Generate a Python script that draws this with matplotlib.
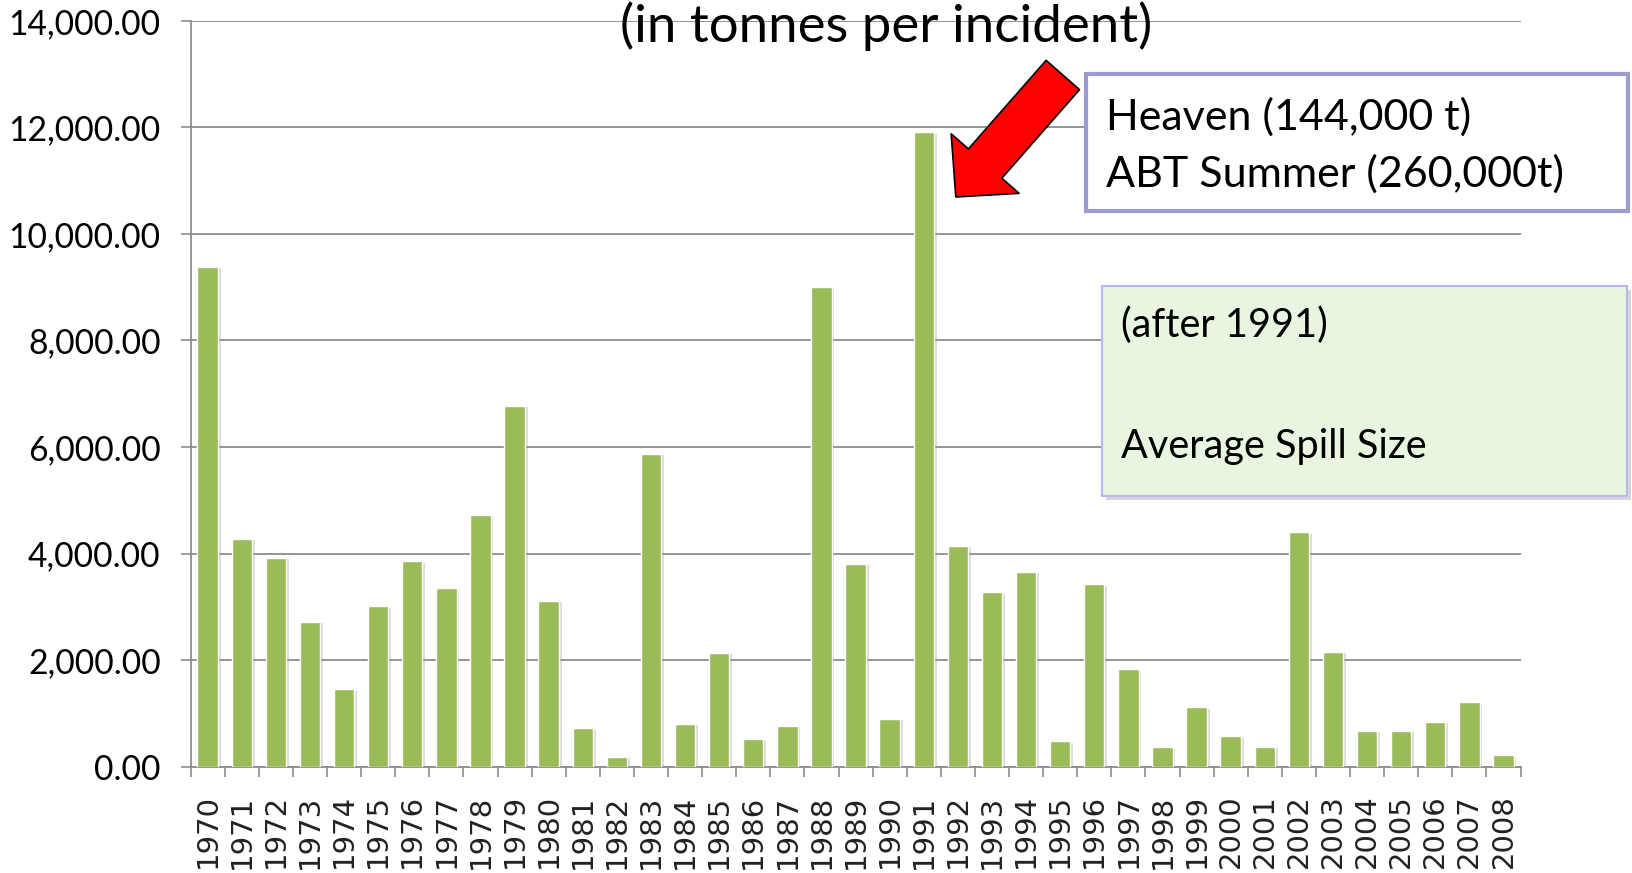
import numpy as np
import matplotlib
matplotlib.use("Agg")
import matplotlib.pyplot as plt
import matplotlib.patheffects as pe
from matplotlib.patches import Rectangle
from matplotlib.ticker import StrMethodFormatter, FixedLocator

# average spill size per year (tonnes per incident)
years = [str(y) for y in range(1970, 2009)]
avg_spill = [9380, 4280, 3920, 2720, 1450, 3010, 3850, 3360, 4730, 6770,
             3110, 720, 180, 5870, 800, 2130, 510, 760, 9000, 3810,
             900, 11910, 4150, 3270, 3660, 470, 3420, 1840, 370, 1110,
             570, 370, 4400, 2150, 670, 670, 840, 1210, 210]
yticks = [0, 2000, 4000, 6000, 8000, 10000, 12000, 14000]

title_txt = "(in tonnes per incident)"
box1_lines = ["Heaven (144,000 t)", "ABT Summer (260,000t)"]
box2_lines = ["(after 1991)", "Average Spill Size"]

plt.rcParams['font.family'] = ['Lato', 'DejaVu Sans']

W, H = 1633, 873
fig = plt.figure(figsize=(W / 100, H / 100), dpi=100)
ax = fig.add_axes([190.6 / W, (H - 766.5) / H, (1520.5 - 190.6) / W, (766.5 - 21) / H])

x = np.arange(len(years))
bars = ax.bar(x, avg_spill, width=0.6, color="#9BBB59", edgecolor="white", linewidth=1, zorder=3)
for b in bars:
    b.set_path_effects([pe.SimplePatchShadow(offset=(2, -1), shadow_rgbFace="#999999", alpha=0.35),
                        pe.Normal()])

ax.set_xlim(-0.5, len(years) - 0.5)
ax.set_ylim(0, 14000)
ax.set_yticks(yticks)
ax.yaxis.set_major_formatter(StrMethodFormatter("{x:,.2f}"))
ax.grid(axis="y", color="#8C8C8C", linewidth=1.3, zorder=0)
ax.set_axisbelow(True)

for s in ["top", "right"]:
    ax.spines[s].set_visible(False)
for s in ["left", "bottom"]:
    ax.spines[s].set_color("#8C8C8C")
    ax.spines[s].set_linewidth(1.3)

ax.tick_params(axis="y", direction="out", length=7.5, width=1.2, color="#8C8C8C",
               labelsize=24.2, pad=14, labelcolor="black")
ax.set_xticks(x)
ax.set_xticklabels(years, rotation=90, fontsize=21, family="DejaVu Sans", color="#222222")
ax.tick_params(axis="x", which="major", length=0, pad=20)
ax.xaxis.set_minor_locator(FixedLocator(np.arange(-0.5, len(years), 1.0)))
ax.tick_params(axis="x", which="minor", direction="out", length=7.5, width=1.2, color="#8C8C8C")

# title, partly cut at the top edge
fig.text(886 / W, 1 - 42 / H, title_txt, ha="center", va="baseline", fontsize=38, color="black")

# red arrow pointing at the 1991 bar
ax.annotate("", xy=(21.94, 10695), xycoords="data",
            xytext=(1062.8 / W, 1 - 75 / H), textcoords="figure fraction",
            arrowprops=dict(arrowstyle="simple,head_length=3.2,head_width=6.5,tail_width=3.2",
                            mutation_scale=10, fc="red", ec="black", lw=1.2,
                            shrinkA=0, shrinkB=0), zorder=5)

# box with the two big spills
fig.add_artist(Rectangle((1086 / W, 1 - 211 / H), 542 / W, 137 / H, transform=fig.transFigure,
                         facecolor="white", edgecolor="#9C9CCF", linewidth=3, zorder=6))
fig.text(1106 / W, 1 - 130 / H, box1_lines[0], fontsize=31, va="baseline", zorder=7)
fig.text(1106 / W, 1 - 187 / H, box1_lines[1], fontsize=31, va="baseline", zorder=7)

# green note box
fig.add_artist(Rectangle((1106 / W, 1 - 500 / H), 525 / W, 210 / H, transform=fig.transFigure,
                         facecolor="#BBBBBB", edgecolor="none", alpha=0.6, zorder=5))
fig.add_artist(Rectangle((1102 / W, 1 - 496 / H), 525 / W, 210 / H, transform=fig.transFigure,
                         facecolor="#E8F5E0", edgecolor="#B8B8F0", linewidth=1.5, zorder=6))
fig.text(1121 / W, 1 - 337 / H, box2_lines[0], fontsize=28.5, va="baseline", zorder=7)
fig.text(1121 / W, 1 - 458 / H, box2_lines[1], fontsize=28.5, va="baseline", zorder=7)

fig.savefig("out.png", dpi=100)
